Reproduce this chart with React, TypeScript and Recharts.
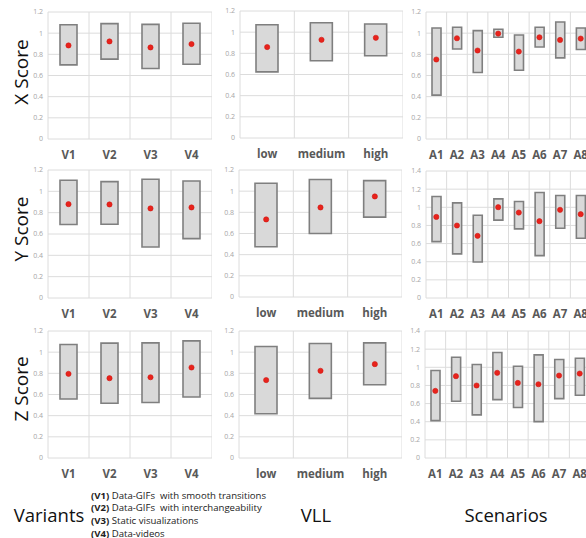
import React from "react";
import { ComposedChart, Bar, Line, XAxis, YAxis, CartesianGrid } from "recharts";

const variants = ["V1", "V2", "V3", "V4"];
const vll = ["low", "medium", "high"];
const scenarios = ["A1", "A2", "A3", "A4", "A5", "A6", "A7", "A8"];

// X Score
const xVarLow = [0.7, 0.755, 0.666, 0.707];
const xVarHigh = [1.08, 1.09, 1.083, 1.093];
const xVarMean = [0.884, 0.922, 0.865, 0.897];
const xVllLow = [0.625, 0.73, 0.777];
const xVllHigh = [1.07, 1.089, 1.077];
const xVllMean = [0.859, 0.928, 0.947];
const xScnLow = [0.415, 0.851, 0.628, 0.961, 0.65, 0.87, 0.767, 0.845];
const xScnHigh = [1.049, 1.056, 1.024, 1.037, 0.983, 1.056, 1.106, 1.049];
const xScnMean = [0.751, 0.952, 0.836, 0.996, 0.826, 0.961, 0.936, 0.949];

// Y Score
const yVarLow = [0.689, 0.692, 0.478, 0.557];
const yVarHigh = [1.104, 1.091, 1.113, 1.097];
const yVarMean = [0.88, 0.877, 0.84, 0.849];
const yVllLow = [0.475, 0.6, 0.755];
const yVllHigh = [1.075, 1.11, 1.1];
const yVllMean = [0.733, 0.846, 0.95];
const yScnLow = [0.622, 0.486, 0.397, 0.858, 0.762, 0.467, 0.769, 0.659];
const yScnHigh = [1.119, 1.049, 0.913, 1.093, 1.064, 1.163, 1.13, 1.13];
const yScnMean = [0.894, 0.799, 0.685, 1.001, 0.942, 0.847, 0.972, 0.924];

// Z Score
const zVarLow = [0.558, 0.517, 0.524, 0.577];
const zVarHigh = [1.073, 1.085, 1.088, 1.107];
const zVarMean = [0.795, 0.754, 0.763, 0.855];
const zVllLow = [0.418, 0.563, 0.692];
const zVllHigh = [1.053, 1.082, 1.088];
const zVllMean = [0.736, 0.824, 0.887];
const zScnLow = [0.412, 0.626, 0.475, 0.644, 0.556, 0.401, 0.655, 0.692];
const zScnHigh = [0.964, 1.111, 1.03, 1.163, 1.012, 1.137, 1.086, 1.1];
const zScnMean = [0.74, 0.902, 0.799, 0.939, 0.828, 0.813, 0.909, 0.931];

const ticks12 = [0, 0.2, 0.4, 0.6, 0.8, 1, 1.2];
const ticks14 = [0, 0.2, 0.4, 0.6, 0.8, 1, 1.2, 1.4];

const legendLines = [
  ["(V1)", " Data-GIFs  with smooth transitions"],
  ["(V2)", " Data-GIFs  with interchangeability"],
  ["(V3)", " Static visualizations"],
  ["(V4)", " Data-videos"],
];

const FONT = "'Open Sans', sans-serif";

function build(cats: string[], lo: number[], hi: number[], mean: number[]) {
  return cats.map((c, i) => ({ cat: c, range: [lo[i], hi[i]], mean: mean[i] }));
}

const Y_AXIS_W = 40;
const X_AXIS_H = 30;
const TOP_M = 5;

function Panel(props: {
  cats: string[];
  lo: number[];
  hi: number[];
  mean: number[];
  left: number;
  top: number;
  width: number;
  height: number;
  ticks: number[];
  barSize: number;
}) {
  const { cats, lo, hi, mean, left, top, width, height, ticks, barSize } = props;
  const data = build(cats, lo, hi, mean);
  const n = cats.length;
  const W = Y_AXIS_W + width;
  const H = TOP_M + height + X_AXIS_H;
  return (
    <div style={{ position: "absolute", left: left - Y_AXIS_W, top: top - TOP_M }}>
      <ComposedChart
        width={W}
        height={H}
        data={data}
        margin={{ top: TOP_M, right: 0, left: 0, bottom: 0 }}
        barCategoryGap={0}
      >
        <CartesianGrid
          stroke="#dcdcdc"
          strokeWidth={1}
          verticalCoordinatesGenerator={(p: any) => {
            const o = p.offset;
            const arr: number[] = [];
            for (let i = 0; i <= n; i++) arr.push(o.left + (o.width * i) / n);
            return arr;
          }}
        />
        <XAxis
          dataKey="cat"
          axisLine={false}
          tickLine={false}
          tickSize={0}
          tickMargin={12}
          height={X_AXIS_H}
          interval={0}
          tick={{ fill: "#595959", fontSize: 11.5, fontWeight: 700, fontFamily: FONT }}
        />
        <YAxis
          domain={[0, ticks[ticks.length - 1]]}
          ticks={ticks}
          width={Y_AXIS_W}
          axisLine={false}
          tickLine={false}
          tickSize={0}
          tickMargin={5}
          interval={0}
          tick={{ fill: "#a6a6a6", fontSize: 7, fontFamily: FONT }}
        />
        <Bar
          dataKey="range"
          fill="#d9d9d9"
          stroke="#7f7f7f"
          strokeWidth={1.6}
          barSize={barSize}
          isAnimationActive={false}
        />
        <Line
          dataKey="mean"
          stroke="none"
          strokeWidth={0}
          dot={{ r: 2.6, fill: "#e8231c", stroke: "#d01a14", strokeWidth: 0.6 }}
          activeDot={false}
          isAnimationActive={false}
        />
      </ComposedChart>
    </div>
  );
}

function RowLabel({ text, cy }: { text: string; cy: number }) {
  return (
    <div
      style={{
        position: "absolute",
        left: 21,
        top: cy,
        transform: "translate(-50%, -50%) rotate(-90deg)",
        whiteSpace: "nowrap",
        fontSize: 19,
        fontFamily: FONT,
        color: "#111",
        lineHeight: 1,
      }}
    >
      {text}
    </div>
  );
}

export default function App() {
  const PH = 127;
  return (
    <div
      style={{
        position: "absolute",
        left: 0,
        top: 0,
        width: 586,
        height: 538,
        overflow: "hidden",
        background: "#fff",
        fontFamily: FONT,
      }}
    >
      <RowLabel text="X Score" cy={72} />
      <RowLabel text="Y Score" cy={229} />
      <RowLabel text="Z Score" cy={389} />

      <Panel cats={variants} lo={xVarLow} hi={xVarHigh} mean={xVarMean} left={48} top={12} width={164} height={PH} ticks={ticks12} barSize={17} />
      <Panel cats={vll} lo={xVllLow} hi={xVllHigh} mean={xVllMean} left={240} top={11} width={163} height={PH} ticks={ticks12} barSize={22} />
      <Panel cats={scenarios} lo={xScnLow} hi={xScnHigh} mean={xScnMean} left={426} top={12} width={165} height={PH} ticks={ticks12} barSize={9} />

      <Panel cats={variants} lo={yVarLow} hi={yVarHigh} mean={yVarMean} left={48} top={170} width={164} height={128} ticks={ticks12} barSize={17} />
      <Panel cats={vll} lo={yVllLow} hi={yVllHigh} mean={yVllMean} left={239} top={170} width={163} height={PH} ticks={ticks12} barSize={22} />
      <Panel cats={scenarios} lo={yScnLow} hi={yScnHigh} mean={yScnMean} left={426} top={171} width={165} height={PH} ticks={ticks14} barSize={9} />

      <Panel cats={variants} lo={zVarLow} hi={zVarHigh} mean={zVarMean} left={48} top={331} width={164} height={PH} ticks={ticks12} barSize={17} />
      <Panel cats={vll} lo={zVllLow} hi={zVllHigh} mean={zVllMean} left={239} top={331} width={163} height={PH} ticks={ticks12} barSize={22} />
      <Panel cats={scenarios} lo={zScnLow} hi={zScnHigh} mean={zScnMean} left={425} top={331} width={165} height={PH} ticks={ticks14} barSize={9} />

      <div style={{ position: "absolute", left: 49, top: 515, transform: "translate(-50%, -50%)", fontSize: 18.5, color: "#111", lineHeight: 1, whiteSpace: "nowrap" }}>Variants</div>
      <div style={{ position: "absolute", left: 91, top: 489.5, fontSize: 9.6, color: "#222", lineHeight: "12.7px", whiteSpace: "pre" }}>
        {legendLines.map((l, i) => (
          <div key={i}>
            <b>{l[0]}</b>
            {l[1]}
          </div>
        ))}
      </div>
      <div style={{ position: "absolute", left: 316, top: 515, transform: "translate(-50%, -50%)", fontSize: 18.5, color: "#111", lineHeight: 1 }}>VLL</div>
      <div style={{ position: "absolute", left: 506, top: 515, transform: "translate(-50%, -50%)", fontSize: 18.5, color: "#111", lineHeight: 1 }}>Scenarios</div>
    </div>
  );
}
